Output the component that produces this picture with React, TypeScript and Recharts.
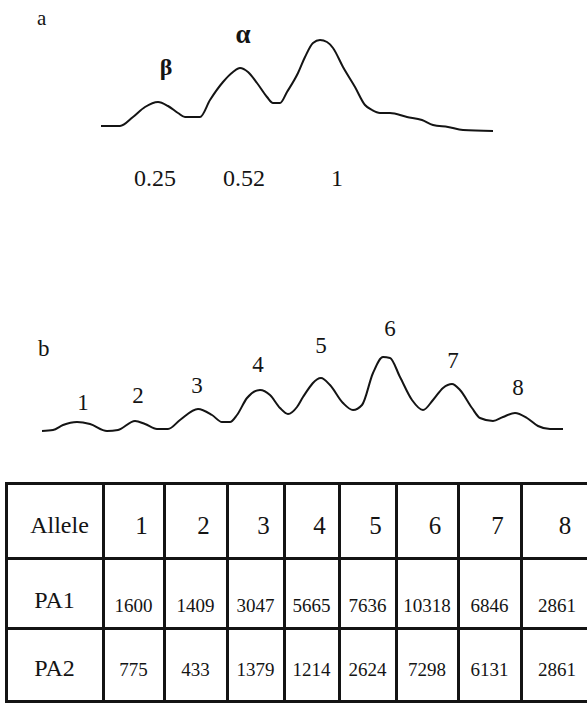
import React from 'react';
import { LineChart, Line, XAxis, YAxis, ReferenceDot } from 'recharts';

// scan a: position along the strip, optical density
const traceAPos = [1, 20, 33, 45, 58, 68, 78, 85, 100, 110, 123, 133, 140, 148, 157, 167, 173, 180, 187, 198, 205, 213, 220, 227, 233, 243, 255, 265, 272, 280, 290, 307, 322, 333, 348, 363, 393];
const traceAOD = [14, 14, 23, 33, 38, 34, 27, 23, 23, 40, 58, 68, 72, 68, 57, 43, 37, 37, 48, 67, 83, 97, 100, 98, 92, 73, 53, 35, 30, 27, 27, 23, 20, 15, 13, 10, 9];
const bandNamesA = ['β', 'α'];
const relAmountsA = ['0.25', '0.52', '1'];

// scan b: eight allele bands
const traceBPos = [2, 13, 23, 37, 50, 67, 78, 95, 105, 117, 128, 140, 158, 172, 182, 190, 197, 207, 220, 230, 240, 248, 257, 263, 281, 290, 303, 313, 322, 333, 343, 350, 360, 372, 383, 393, 403, 412, 420, 432, 440, 453, 463, 475, 487, 498, 510, 523];
const traceBOD = [9, 10, 15, 18, 16, 9, 10, 19, 16, 11, 11, 20, 31, 25, 18, 18, 25, 42, 50, 45, 32, 26, 33, 43, 62, 55, 37, 30, 35, 67, 83, 82, 63, 40, 30, 40, 52, 56, 50, 32, 22, 19, 23, 27, 22, 14, 11, 11];

// table
const alleles = ['1', '2', '3', '4', '5', '6', '7', '8'];
const pa1 = [1600, 1409, 3047, 5665, 7636, 10318, 6846, 2861];
const pa2 = [775, 433, 1379, 1214, 2624, 7298, 6131, 2861];

const serif = '"Liberation Serif", "Times New Roman", serif';
const ink = '#141414';

const dataA = traceAPos.map((x, i) => ({ x, y: traceAOD[i] }));
const dataB = traceBPos.map((x, i) => ({ x, y: traceBOD[i] }));

// label anchors in data units of each scan
const spotsA = [
  { x: 66, y: 73, text: bandNamesA[0], bold: true, size: 24 },
  { x: 143, y: 106, text: bandNamesA[1], bold: true, size: 27 },
  { x: 55, y: -38, text: relAmountsA[0], size: 24 },
  { x: 144, y: -38, text: relAmountsA[1], size: 24 },
  { x: 237, y: -38, text: relAmountsA[2], size: 24 },
];
const spotsBXY = [[43, 38], [98, 45], [157, 55], [218, 76], [281, 95], [350, 112], [413, 80], [478, 53]];

const labelFor = (text: string, size: number, bold?: boolean) => ({
  content: (props: any) => {
    const vb = props.viewBox || {};
    const cx = (vb.x ?? 0) + (vb.width ?? 0) / 2;
    const cy = (vb.y ?? 0) + (vb.height ?? 0) / 2;
    return (
      <text
        x={cx}
        y={cy}
        textAnchor="middle"
        dominantBaseline="central"
        fill={ink}
        style={{ fontFamily: serif, fontSize: size, fontWeight: bold ? 700 : 400 }}
      >
        {text}
      </text>
    );
  },
});

const colEdges = [6, 103, 164, 227, 284, 339, 396, 458, 521, 593];
const rowEdges = [483, 558, 628, 701];

const Cell = ({ col, row, text, size, dx = 0, dy = 0 }: { col: number; row: number; text: string; size: number; dx?: number; dy?: number }) => (
  <div
    style={{
      position: 'absolute',
      left: colEdges[col],
      top: rowEdges[row],
      width: colEdges[col + 1] - colEdges[col],
      height: rowEdges[row + 1] - rowEdges[row],
      display: 'flex',
      alignItems: 'center',
      justifyContent: 'center',
      fontFamily: serif,
      fontSize: size,
      lineHeight: 1,
      color: ink,
    }}
  >
    <span style={{ transform: `translate(${dx}px, ${dy}px)` }}>{text}</span>
  </div>
);

export default function App() {
  return (
    <div style={{ position: 'absolute', left: 0, top: 0, width: 587, height: 705, overflow: 'hidden', background: '#fff', fontFamily: serif }}>
      <div style={{ position: 'absolute', left: 37, top: 6, fontSize: 21, color: ink }}>a</div>
      <div style={{ position: 'absolute', left: 38, top: 336, fontSize: 23, color: ink }}>b</div>

      <div style={{ position: 'absolute', left: 0, top: 0 }}>
        <LineChart width={587} height={200} data={dataA} margin={{ top: 10, right: 87, bottom: 0, left: 100 }}>
          <XAxis dataKey="x" type="number" domain={[0, 400]} hide />
          <YAxis type="number" domain={[-60, 130]} hide />
          <Line dataKey="y" type="monotone" stroke={ink} strokeWidth={2} dot={false} isAnimationActive={false} />
          {spotsA.map((s, i) => (
            <ReferenceDot key={i} x={s.x} y={s.y} r={0} fill="none" stroke="none" label={labelFor(s.text, s.size, s.bold)} />
          ))}
        </LineChart>
      </div>

      <div style={{ position: 'absolute', left: 0, top: 300 }}>
        <LineChart width={587} height={150} data={dataB} margin={{ top: 15, right: 17, bottom: 10, left: 40 }}>
          <XAxis dataKey="x" type="number" domain={[0, 530]} hide />
          <YAxis type="number" domain={[0, 125]} hide />
          <Line dataKey="y" type="monotone" stroke={ink} strokeWidth={2} dot={false} isAnimationActive={false} />
          {alleles.map((a, i) => (
            <ReferenceDot key={a} x={spotsBXY[i][0]} y={spotsBXY[i][1]} r={0} fill="none" stroke="none" label={labelFor(a, 23)} />
          ))}
        </LineChart>
      </div>

      {/* table grid */}
      {colEdges.map((x, i) => (
        <div key={'v' + i} style={{ position: 'absolute', left: x - 1, top: rowEdges[0] - 1, width: 2.5, height: rowEdges[3] - rowEdges[0] + 2, background: ink }} />
      ))}
      {rowEdges.map((y, i) => (
        <div key={'h' + i} style={{ position: 'absolute', left: colEdges[0] - 1, top: y - 1, width: 600, height: 2.5, background: ink }} />
      ))}

      <Cell col={0} row={0} text="Allele" size={24} dx={5} dy={4} />
      {alleles.map((a, i) => (
        <Cell key={'a' + a} col={i + 1} row={0} text={a} size={25} dx={8} dy={5} />
      ))}
      <Cell col={0} row={1} text="PA1" size={24} dy={7} />
      {pa1.map((v, i) => (
        <Cell key={'p1' + i} col={i + 1} row={1} text={String(v)} size={19} dy={12} />
      ))}
      <Cell col={0} row={2} text="PA2" size={24} dy={3} />
      {pa2.map((v, i) => (
        <Cell key={'p2' + i} col={i + 1} row={2} text={String(v)} size={19} dy={5} />
      ))}
    </div>
  );
}
